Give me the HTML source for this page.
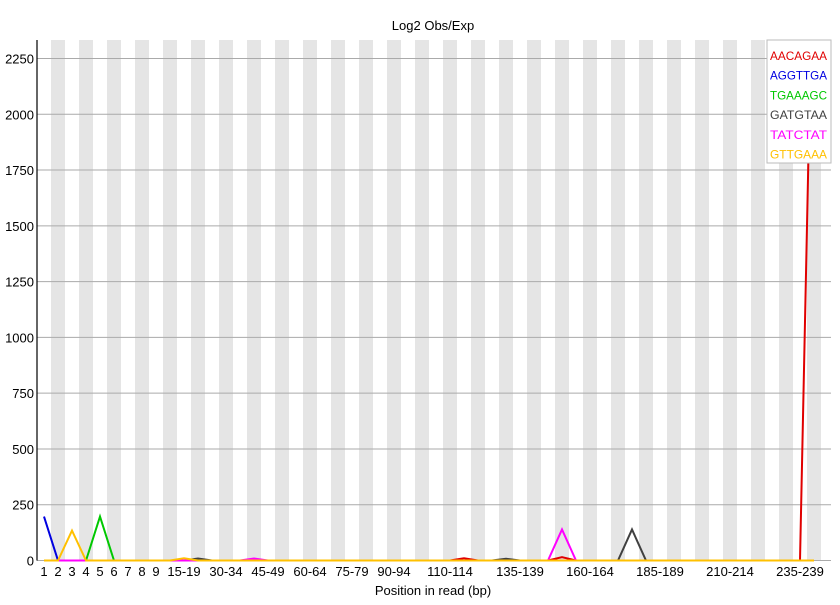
<!DOCTYPE html>
<html><head><meta charset="utf-8"><style>
body{margin:0;background:#fff;}
svg text{font-family:"Liberation Sans","DejaVu Sans",sans-serif;}
</style></head><body>
<svg id="chart" width="840" height="600" xmlns="http://www.w3.org/2000/svg">
<defs><clipPath id="pc"><rect x="37" y="40" width="794" height="522"/></clipPath></defs>
<g id="bands"></g><g id="grid"></g><g id="lines" clip-path="url(#pc)"></g><g id="axes"></g>
<text x="433" y="30" font-size="13" text-anchor="middle">Log2 Obs/Exp</text>
<text x="433" y="595" font-size="13" text-anchor="middle">Position in read (bp)</text>
<g id="legend"></g>
</svg>
<script>
const categories=["1","2","3","4","5","6","7","8","9"];
for(let s=10;s<=240;s+=5)categories.push(s+"-"+(s+4));
const shownLabels=[0,1,2,3,4,5,6,7,8,10,13,16,19,22,25,29,34,39,44,49,54];
const yTicks=[0,250,500,750,1000,1250,1500,1750,2000,2250];
const seriesNames=["AACAGAA","AGGTTGA","TGAAAGC","GATGTAA","TATCTAT","GTTGAAA"];
const seriesColors=["#e00000","#0000e0","#00c800","#404040","#ff00ff","#ffc000"];
const peaksAACAGAA=[[30,10],[37,15],[55,3000]];
const peaksAGGTTGA=[[0,197]];
const peaksTGAAAGC=[[4,197]];
const peaksGATGTAA=[[11,9],[33,8],[42,139]];
const peaksTATCTAT=[[15,9],[37,139]];
const peaksGTTGAAA=[[2,134],[10,10]];
const peaks=[peaksAACAGAA,peaksAGGTTGA,peaksTGAAAGC,peaksGATGTAA,peaksTATCTAT,peaksGTTGAAA];
const NS="http://www.w3.org/2000/svg";
const X0=37,BW=14,Y0=560.5,K=502/2250;
const x=i=>X0+BW*(i+0.5), y=v=>Y0-v*K;
function mk(t,a,p){const e=document.createElementNS(NS,t);for(const k in a)e.setAttribute(k,a[k]);p.appendChild(e);return e;}
const bands=document.getElementById('bands');
for(let i=0;i<57;i++){if(i%2==1){const r=mk('rect',{x:X0+BW*i,y:40,width:BW,height:Y0-40,fill:'#e5e5e5'},bands);

}}
const grid=document.getElementById('grid'),axes=document.getElementById('axes');
yTicks.forEach(v=>{const l=mk('line',{x1:X0,x2:831,y1:y(v),y2:y(v),stroke:'#aaa','stroke-width':1},grid);


const t=mk('text',{x:X0-3,y:y(v)+5,'font-size':13,'text-anchor':'end'},axes);t.textContent=v;

});
const ax=mk('line',{x1:X0,x2:X0,y1:40,y2:Y0,stroke:'#000','stroke-width':1.2},axes);


shownLabels.forEach(i=>{const t=mk('text',{x:x(i),y:576,'font-size':13,'text-anchor':'middle'},axes);t.textContent=categories[i];

});
const lines=document.getElementById('lines');
peaks.forEach((pk,s)=>{const vals=categories.map(()=>0);pk.forEach(([i,v])=>vals[i]=v);
const p=mk('polyline',{points:vals.map((v,i)=>x(i)+','+y(v)).join(' '),fill:'none',stroke:seriesColors[s],'stroke-width':2},lines);

});
const lg=document.getElementById('legend');
const box=mk('rect',{x:767,y:40,width:64,height:123,fill:'#fff',stroke:'#bbb'},lg);


seriesNames.forEach((n,i)=>{const t=mk('text',{x:770,y:60+i*19.7,'font-size':12,fill:seriesColors[i],textLength:57,lengthAdjust:'spacingAndGlyphs'},lg);t.textContent=n;

});
</script>
</body></html>
